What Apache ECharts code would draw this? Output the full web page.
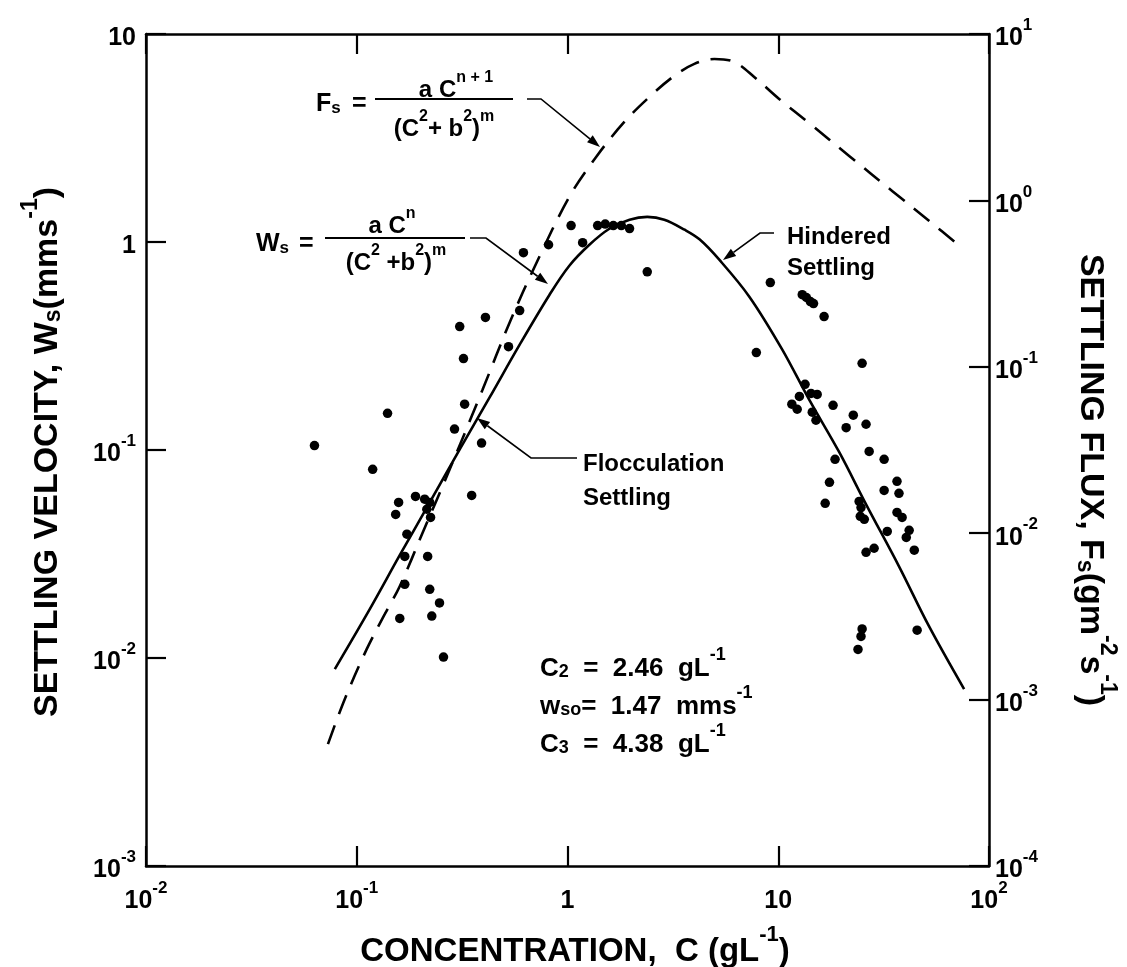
<!DOCTYPE html>
<html><head><meta charset="utf-8">
<script src="https://cdn.jsdelivr.net/npm/echarts@6/dist/echarts.min.js"></script>
<style>html,body{margin:0;padding:0;background:#fff}#c{width:1127px;height:967px}</style>
</head><body><div id="c"></div>
<script>
// ---------- tick labels (base, exponent) ----------
const xTickLabels = [['10','-2'],['10','-1'],['1',''],['10',''],['10','2']];      // 1e-2 .. 1e2
const leftTickLabels = [['10','-3'],['10','-2'],['10','-1'],['1',''],['10','']];    // 1e-3 .. 1e1
const rightTickLabels = [['10','-4'],['10','-3'],['10','-2'],['10','-1'],['10','0'],['10','1']]; // 1e-4 .. 1e1

// ---------- observed settling velocities (C in g/L, Ws in mm/s) ----------
const obsC = [0.063,0.119,0.140,0.158,0.153,0.173,0.190,0.210,0.222,0.215,0.224,0.169,0.217,0.169,0.222,0.247,0.227,0.160,0.258,
  0.291,0.325,0.351,0.391,0.321,0.308,0.408,0.525,0.593,
  0.618,0.813,1.04,1.18,1.39,1.51,1.65,1.80,1.97,2.39,
  9.17,13.0,13.6,14.2,14.7,16.5,7.87,25.0,13.4,12.6,14.3,15.3,11.6,12.3,14.5,15.1,18.2,22.7,21.0,26.1,
  18.6,27.0,31.8,17.5,16.7,36.6,31.8,37.4,24.2,24.7,24.5,25.6,36.6,38.7,32.9,41.8,40.5,44.2,26.1,28.5,
  25.0,24.7,23.9,45.6];
const obsW = [0.105,0.0807,0.150,0.056,0.049,0.0394,0.0598,0.058,0.056,0.0519,0.0474,0.0308,0.0308,0.0226,0.0214,0.0184,0.0159,0.0155,0.0101,
  0.126,0.166,0.0605,0.108,0.275,0.392,0.434,0.314,0.468,
  0.889,0.970,1.20,0.993,1.20,1.22,1.20,1.20,1.16,0.719,
  0.638,0.558,0.541,0.517,0.506,0.438,0.294,0.261,0.207,0.181,0.187,0.185,0.166,0.157,0.152,0.139,0.164,0.147,0.128,0.133,
  0.0902,0.0984,0.0902,0.0699,0.0554,0.0707,0.0639,0.0619,0.0566,0.0529,0.0480,0.0464,0.0501,0.0474,0.0406,0.0411,0.0380,0.0330,0.0322,0.0337,
  0.0138,0.0127,0.0110,0.0136];

// ---------- fitted Ws curve (solid, left axis) ----------
const wsCurveC = [0.0787,0.1153,0.160,0.222,0.308,0.427,0.593,0.822,1.02,1.27,1.58,1.97,2.39,2.88,3.59,4.23,5.25,7.29,10.45,14.0,19.5,26.1,37.4,51.9,76.2];
const wsCurveW = [0.00885,0.01718,0.0312,0.0560,0.1007,0.179,0.321,0.558,0.769,0.970,1.158,1.28,1.32,1.28,1.146,1.03,0.822,0.546,0.304,0.175,0.0973,0.0548,0.0276,0.01423,0.00709];

// ---------- fitted Fs curve (dashed, right axis) ----------
const fsCurveC = [0.0730,0.0877,0.1115,0.1358,0.160,0.2056,0.2761,0.3956,0.531,0.713,1.02,1.37,1.86,2.45,3.21,4.00,4.98,6.18,7.69,10.1,14.0,21.7,34.7,51.9,74.5];
const fsCurveF = [5.40e-4,1.005e-3,2.01e-3,3.26e-3,4.80e-3,0.0101,0.0242,0.0730,0.184,0.422,1.05,1.83,2.96,4.19,5.60,6.61,7.08,6.79,5.52,4.07,2.92,1.85,1.14,0.755,0.519];

const FF = '"Liberation Sans", Arial, Helvetica, sans-serif';
function richSet(S) {
  return {
    b: {fontSize: S, fontWeight: 'bold', fontFamily: FF, color: '#000', lineHeight: Math.round(S*1.35), verticalAlign: 'bottom'},
    sup: {fontSize: Math.round(S*0.68), fontWeight: 'bold', fontFamily: FF, color: '#000', lineHeight: Math.round(S*0.68), verticalAlign: 'top'},
    sub: {fontSize: Math.round(S*0.68), fontWeight: 'bold', fontFamily: FF, color: '#000', lineHeight: Math.round(S*0.68), verticalAlign: 'bottom'}
  };
}
function lab(arr) { return '{b|' + arr[0] + '}' + (arr[1] ? '{sup|' + arr[1] + '}' : ''); }
function fmtFrom(list, minExp) {
  return function (v) {
    const e = Math.round(Math.log10(v));
    const it = list[e - minExp];
    return it ? lab(it) : '';
  };
}

const axisLine = {show: true, lineStyle: {color: '#000', width: 2.5}};
const axisTick = {show: true, inside: true, length: 20, lineStyle: {color: '#000', width: 2.2}};

function T(x, y, text, S, opt) {
  opt = opt || {};
  return {type: 'text', x: x, y: y, rotation: opt.rot || 0, z: 50,
    style: {text: text, rich: richSet(S), fill: '#000', align: opt.align || 'left', verticalAlign: opt.va || 'middle',
      fontSize: S, fontWeight: 'bold', fontFamily: FF}};
}
function L(x1, y1, x2, y2, w) {
  return {type: 'line', z: 50, shape: {x1: x1, y1: y1, x2: x2, y2: y2}, style: {stroke: '#000', lineWidth: w || 2}};
}
function arrow(pts) {
  const n = pts.length, a = pts[n-2], b = pts[n-1];
  const dx = b[0]-a[0], dy = b[1]-a[1], len = Math.hypot(dx, dy), ux = dx/len, uy = dy/len;
  const h = 13, w = 4.5;
  const bx = b[0]-ux*h, by = b[1]-uy*h;
  return [
    {type: 'polyline', z: 50, shape: {points: pts.slice(0, n-1).concat([[bx, by]])}, style: {stroke: '#000', lineWidth: 1.6, fill: null}},
    {type: 'polygon', z: 50, shape: {points: [b, [bx-uy*w, by+ux*w], [bx+uy*w, by-ux*w]]}, style: {fill: '#000'}}
  ];
}

const graphics = [].concat(
  // Fs formula
  [T(316, 100, '{b|F}{sub|s}', 25), T(352, 100, '{b|=}', 25),
   L(375, 99, 513, 99, 2.2),
   T(456, 86, '{b|a C}{sup|n + 1}', 24, {align: 'center'}),
   T(444, 125, '{b|(C}{sup|2}{b|+ b}{sup|2}{b|)}{sup|m}', 24, {align: 'center'})],
  arrow([[527, 99], [541, 99], [600, 147]]),
  // Ws formula
  [T(256, 240, '{b|W}{sub|s}', 25), T(299, 240, '{b|=}', 25),
   L(325, 238, 465, 238, 2.2),
   T(392, 222, '{b|a C}{sup|n}', 24, {align: 'center'}),
   T(396, 259, '{b|(C}{sup|2}{b| +b}{sup|2}{b|)}{sup|m}', 24, {align: 'center'})],
  arrow([[470, 238], [486, 238], [548, 284]]),
  // Flocculation settling
  [T(583, 460, '{b|Flocculation}', 24), T(583, 494, '{b|Settling}', 24)],
  arrow([[577, 458], [531, 458], [477, 418]]),
  // Hindered settling
  [T(787, 233, '{b|Hindered}', 24), T(787, 264, '{b|Settling}', 24)],
  arrow([[774, 233], [760, 233], [723, 260]]),
  // parameter block
  [T(540, 664, '{b|C}{sub|2}{b|  =  2.46  gL}{sup|-1}', 26),
   T(540, 702, '{b|w}{sub|so}{b|=  1.47  mms}{sup|-1}', 26),
   T(540, 740, '{b|C}{sub|3}{b|  =  4.38  gL}{sup|-1}', 26)],
  // axis titles
  [T(575, 946, '{b|CONCENTRATION,  C (gL}{sup|-1}{b|)}', 33, {align: 'center'}),
   T(42, 452, '{b|SETTLING VELOCITY, W}{sub|s}{b|(mms}{sup|-1}{b|)}', 34, {align: 'center', rot: Math.PI/2}),
   T(1096, 480, '{b|SETTLING FLUX, F}{sub|s}{b|(gm}{sup|-2}{b|s}{sup|-1}{b|)}', 34, {align: 'center', rot: -Math.PI/2})]
);

const chart = echarts.init(document.getElementById('c'), null, {renderer: 'canvas'});
chart.setOption({
  backgroundColor: '#fff',
  animation: false,
  grid: {left: 146, right: 138, top: 34, bottom: 101, containLabel: false},
  xAxis: [
    {type: 'log', logBase: 10, min: 0.01, max: 100, position: 'bottom', axisLine: axisLine, axisTick: axisTick,
     splitLine: {show: false}, minorTick: {show: false},
     axisLabel: {show: true, margin: 14, formatter: fmtFrom(xTickLabels, -2), rich: richSet(25)}},
    {type: 'log', logBase: 10, min: 0.01, max: 100, position: 'top', axisLine: axisLine, axisTick: axisTick,
     splitLine: {show: false}, axisLabel: {show: false}}
  ],
  yAxis: [
    {type: 'log', logBase: 10, min: 0.001, max: 10, position: 'left', axisLine: axisLine, axisTick: axisTick,
     splitLine: {show: false}, minorTick: {show: false},
     axisLabel: {show: true, margin: 10, formatter: fmtFrom(leftTickLabels, -3), rich: richSet(25)}},
    {type: 'log', logBase: 10, min: 0.0001, max: 10, position: 'right', axisLine: axisLine, axisTick: axisTick,
     splitLine: {show: false}, minorTick: {show: false},
     axisLabel: {show: true, margin: 6, formatter: fmtFrom(rightTickLabels, -4), rich: richSet(25)}}
  ],
  series: [
    {type: 'scatter', name: 'observed', xAxisIndex: 0, yAxisIndex: 0, symbol: 'circle', symbolSize: 9.5,
     itemStyle: {color: '#000', opacity: 1}, data: obsC.map((c, i) => [c, obsW[i]]), z: 5},
    {type: 'line', name: 'Ws', xAxisIndex: 0, yAxisIndex: 0, showSymbol: false, symbol: 'none', smooth: 0.35,
     lineStyle: {color: '#000', width: 2.6}, data: wsCurveC.map((c, i) => [c, wsCurveW[i]]), z: 4},
    {type: 'line', name: 'Fs', xAxisIndex: 0, yAxisIndex: 1, showSymbol: false, symbol: 'none', smooth: 0.35,
     lineStyle: {color: '#000', width: 2.6, type: [20, 12]}, data: fsCurveC.map((c, i) => [c, fsCurveF[i]]), z: 4}
  ],
  graphic: graphics
});
</script></body></html>
